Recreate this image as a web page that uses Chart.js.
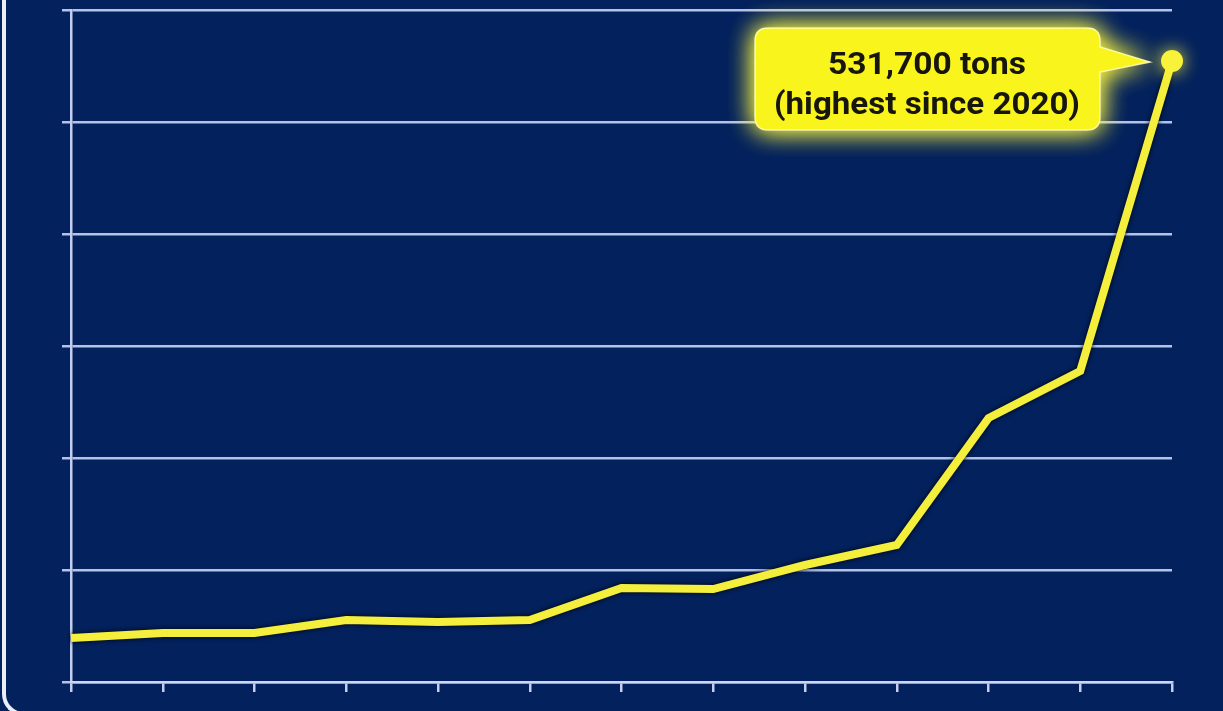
<!DOCTYPE html>
<html>
<head>
<meta charset="utf-8">
<script src="https://cdn.jsdelivr.net/npm/chart.js@4"></script>
<style>
  html, body { margin: 0; padding: 0; }
  body { width: 1223px; height: 711px; background: #03215d; overflow: hidden; position: relative; }
  .frame {
    position: absolute; left: 2px; top: -30px; width: 1400px; height: 746px;
    border-left: 4px solid #e9eef8; border-bottom: 4px solid #e9eef8;
    border-bottom-left-radius: 22px; box-sizing: border-box;
  }
  .wrap { position: absolute; left: 0; top: 0; width: 1223px; height: 711px; }
</style>
</head>
<body>
<div class="frame"></div>
<div class="wrap"><canvas id="chart" width="1223" height="711"></canvas></div>
<script>
// periods along the x axis (labels are not shown in the picture)
const periods = ['1', '2', '3', '4', '5', '6', '7', '8', '9', '10', '11', '12', '13'];
// stock level, tons
const tons = [37700, 42000, 42000, 53100, 51400, 53100, 80500, 79600, 100200, 117300, 226000, 266300, 531700];
const yMax = 575400;
const yStep = 95900;
const calloutLines = ['531,700 tons', '(highest since 2020)'];

const lineShadow = {
    id: 'lineShadow',
    beforeDatasetDraw(chart) {
        const ctx = chart.ctx;
        ctx.save();
        ctx.shadowColor = 'rgba(0,0,0,0.95)';
        ctx.shadowBlur = 5;
    },
    afterDatasetDraw(chart) {
        chart.ctx.restore();
    }
};

const callout = {
    id: 'callout',
    afterDraw(chart) {
        const ctx = chart.ctx;
        const meta = chart.getDatasetMeta(0);
        const last = meta.data[meta.data.length - 1];
        const px = last.x, py = last.y;

        // glowing end point
        ctx.save();
        ctx.shadowColor = 'rgba(255,250,60,0.95)';
        ctx.shadowBlur = 18;
        ctx.fillStyle = '#f8f23a';
        ctx.beginPath();
        ctx.arc(px, py, 11, 0, Math.PI * 2);
        ctx.fill();
        ctx.restore();

        // speech box
        const bx = px - 417, by = py - 33, bw = 345, bh = 102, r = 13;
        ctx.save();
        ctx.shadowColor = 'rgba(255,248,60,0.9)';
        ctx.shadowBlur = 26;
        ctx.fillStyle = '#f9f41c';
        ctx.beginPath();
        ctx.moveTo(bx + r, by);
        ctx.lineTo(bx + bw - r, by);
        ctx.quadraticCurveTo(bx + bw, by, bx + bw, by + r);
        ctx.lineTo(bx + bw, by + 19);
        ctx.lineTo(px - 22, py + 1);
        ctx.lineTo(bx + bw, by + 44);
        ctx.lineTo(bx + bw, by + bh - r);
        ctx.quadraticCurveTo(bx + bw, by + bh, bx + bw - r, by + bh);
        ctx.lineTo(bx + r, by + bh);
        ctx.quadraticCurveTo(bx, by + bh, bx, by + bh - r);
        ctx.lineTo(bx, by + r);
        ctx.quadraticCurveTo(bx, by, bx + r, by);
        ctx.closePath();
        ctx.fill();
        ctx.fill();
        ctx.shadowBlur = 0;
        ctx.strokeStyle = 'rgba(255,255,200,0.8)';
        ctx.lineWidth = 1.5;
        ctx.stroke();
        ctx.restore();

        ctx.save();
        ctx.fillStyle = '#16160f';
        ctx.font = 'bold 31px Roboto';
        ctx.textAlign = 'center';
        ctx.textBaseline = 'alphabetic';
        const cx = bx + 172;
        const targets = [198, 306];
        calloutLines.forEach((t, i) => {
            const w = ctx.measureText(t).width;
            const s = targets[i] / w;
            ctx.save();
            ctx.translate(cx, py + 13 + i * 40);
            ctx.scale(s, 1);
            ctx.fillText(t, 0, 0);
            ctx.restore();
        });
        ctx.restore();
    }
};

new Chart(document.getElementById('chart'), {
    type: 'line',
    data: {
        labels: periods,
        datasets: [{
            data: tons,
            borderColor: '#f4ef3c',
            borderWidth: 8,
            pointRadius: 0,
            tension: 0,
            borderJoinStyle: 'miter',
            fill: false
        }]
    },
    options: {
        responsive: false,
        animation: false,
        devicePixelRatio: 1,
        layout: { padding: { left: 62, right: 51, top: 10, bottom: 19 } },
        plugins: { legend: { display: false }, tooltip: { enabled: false } },
        scales: {
            x: {
                offset: false,
                grid: { drawOnChartArea: false, drawTicks: true, tickLength: 10, color: 'rgba(205,215,245,0.95)', lineWidth: 2.5 },
                border: { display: true, color: 'rgba(205,215,245,0.95)', width: 2.5 },
                ticks: { display: false }
            },
            y: {
                min: 0,
                max: yMax,
                ticks: { display: false, stepSize: yStep },
                grid: { drawTicks: true, tickLength: 9, color: 'rgba(200,212,245,0.9)', lineWidth: 2.5 },
                border: { display: true, color: 'rgba(205,215,245,0.95)', width: 2.5 },
                afterFit(scale) { scale.width = 9; }
            }
        }
    },
    plugins: [lineShadow, callout]
});
</script>
</body>
</html>
